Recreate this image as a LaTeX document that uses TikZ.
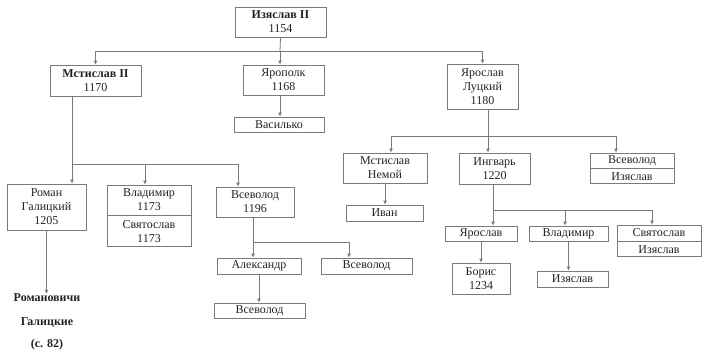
\documentclass[tikz,border=0pt]{standalone}
\usepackage{fontspec}
\setmainfont{Liberation Serif}
\usetikzlibrary{arrows.meta}
\usetikzlibrary{positioning}

\definecolor{lncol}{HTML}{7A7A7A}
\definecolor{txtcol}{HTML}{222222}

\begin{document}
\begin{tikzpicture}[x=1pt,y=-1pt,
        box/.style={draw=lncol,line width=0.8pt,align=center,inner sep=0pt,text=txtcol,
            font=\fontsize{12}{14}\selectfont},
        lbl/.style={inner sep=0pt,text=txtcol,font=\fontsize{12}{14}\selectfont\bfseries},
        ln/.style={draw=lncol,line width=0.8pt},
        arr/.style={ln,-{Latex[length=4pt,width=4pt]}}]
        \useasboundingbox (0,0) rectangle (702,354);

        % top
        \node[box,minimum width=91pt,minimum height=30pt] (iz) at (280.5,22) {\textbf{Изяслав II}\\1154};
        \node[box,minimum width=91pt,minimum height=31pt] (ms2) at (95.5,80.5) {\textbf{Мстислав II}\\1170};
        \node[box,minimum width=81pt,minimum height=30pt] (yp) at (283.5,80) {Ярополк\\1168};
        \node[box,minimum width=90pt,minimum height=15pt] (vas) at (279,124.5) {Василько};
        \node[box,minimum width=71pt,minimum height=45pt] (yl) at (482.5,86.5) {Ярослав\\Луцкий\\1180};

        % left branch
        \node[box,minimum width=79pt,minimum height=46pt] (rom) at (46.5,207) {Роман\\Галицкий\\1205};
        \node[box,minimum width=84pt,minimum height=30pt] (vl) at (149,200) {Владимир\\1173};
        \node[box,minimum width=84pt,minimum height=31pt,below=0pt of vl] (sv) {Святослав\\1173};
        \node[box,minimum width=78pt,minimum height=30pt] (vsv) at (255,202) {Всеволод\\1196};
        \node[box,minimum width=84pt,minimum height=16pt] (al) at (259,266) {Александр};
        \node[box,minimum width=91pt,minimum height=16pt] (vs2) at (366.5,266) {Всеволод};
        \node[box,minimum width=91pt,minimum height=15pt] (vs3) at (259.5,310.5) {Всеволод};
        \node[lbl] (rv) at (47,298) {Романовичи};
        \node[lbl] (gal) at (47,323) {Галицкие};
        \node[lbl] (pg) at (47,345) {(с. 82)};

        % right branch
        \node[box,minimum width=84pt,minimum height=30pt] (mn) at (385,168) {Мстислав\\Немой};
        \node[box,minimum width=77pt,minimum height=16pt] (ivan) at (384.5,213) {Иван};
        \node[box,minimum width=71pt,minimum height=31pt] (ing) at (494.5,168.5) {Ингварь\\1220};
        \node[box,minimum width=84pt,minimum height=15pt] (vs1) at (632,160.5) {Всеволод};
        \node[box,minimum width=84pt,minimum height=15pt,below=0pt of vs1] (iz1) {Изяслав};
        \node[box,minimum width=72pt,minimum height=15pt] (yr2) at (481,233.5) {Ярослав};
        \node[box,minimum width=79pt,minimum height=15pt] (vl2) at (568.5,233.5) {Владимир};
        \node[box,minimum width=84pt,minimum height=16pt] (sv2) at (659,233) {Святослав};
        \node[box,minimum width=84pt,minimum height=15pt,below=0pt of sv2] (iz2) {Изяслав};
        \node[box,minimum width=58pt,minimum height=31pt] (bor) at (481,278.5) {Борис\\1234};
        \node[box,minimum width=71pt,minimum height=16pt] (iz3) at (572.5,279) {Изяслав};

        % connectors
        \coordinate (b1) at (280,51);
        \draw[ln] (iz.south) -- (b1);
        \draw[arr] (b1) -| (ms2.north);
        \draw[arr] (b1) -| (yl.north);
        \draw[arr] (b1) -- (b1 |- yp.north);
        \draw[arr] (b1 |- yp.south) -- (b1 |- vas.north);

        \coordinate (b2) at (72,164);
        \coordinate (b2a) at (145,164);
        \coordinate (b2b) at (238,164);
        \draw[ln] (b2 |- ms2.south) -- (b2) -- (b2b);
        \draw[arr] (b2) -- (b2 |- rom.north);
        \draw[arr] (b2a) -- (b2a |- vl.north);
        \draw[arr] (b2b) -- (b2b |- vsv.north);
        \draw[arr] (rom.south) -- (rom.south |- rv.north);

        \coordinate (b5) at (253,242);
        \coordinate (b5c) at (349,242);
        \draw[ln] (b5 |- vsv.south) -- (b5) -- (b5c);
        \draw[arr] (b5) -- (b5 |- al.north);
        \draw[arr] (b5c) -- (b5c |- vs2.north);
        \draw[arr] (al.south) -- (al.south |- vs3.north);

        \coordinate (b3) at (488,136);
        \coordinate (b3a) at (391,136);
        \coordinate (b3c) at (616,136);
        \draw[ln] (b3 |- yl.south) -- (b3);
        \draw[ln] (b3a) -- (b3c);
        \draw[arr] (b3a) -- (b3a |- mn.north);
        \draw[arr] (b3) -- (b3 |- ing.north);
        \draw[arr] (b3c) -- (b3c |- vs1.north);
        \draw[arr] (mn.south) -- (mn.south |- ivan.north);

        \coordinate (b4) at (493,210);
        \coordinate (b4b) at (565,210);
        \coordinate (b4c) at (652,210);
        \draw[ln] (b4 |- ing.south) -- (b4) -- (b4c);
        \draw[arr] (b4) -- (b4 |- yr2.north);
        \draw[arr] (b4b) -- (b4b |- vl2.north);
        \draw[arr] (b4c) -- (b4c |- sv2.north);
        \draw[arr] (yr2.south) -- (yr2.south |- bor.north);
        \draw[arr] (vl2.south) -- (vl2.south |- iz3.north);
    \end{tikzpicture}
\end{document}
